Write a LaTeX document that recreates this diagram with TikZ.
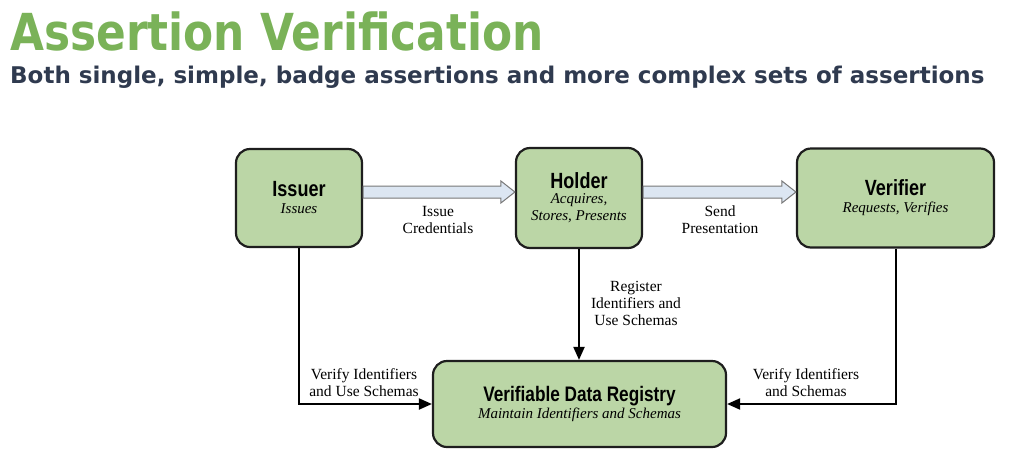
\documentclass[tikz,border=0pt]{standalone}
\usepackage{fontspec}
\setmainfont{Liberation Serif}
\newfontfamily\titlefont[FakeStretch=0.86]{DejaVu Sans}
\newfontfamily\subfont{DejaVu Sans}
\newfontfamily\boxfont[FakeStretch=0.82]{Liberation Sans}
\usetikzlibrary{arrows.meta,calc}
\definecolor{boxgreen}{RGB}{187,214,166}
\definecolor{boxline}{RGB}{30,30,30}
\definecolor{titlegreen}{RGB}{122,178,88}
\definecolor{subnavy}{RGB}{47,58,79}
\definecolor{arrowblue}{RGB}{220,230,242}
\definecolor{arrowgray}{RGB}{120,120,120}
\tikzset{
  box/.style={draw=boxline,line width=2.2pt,fill=boxgreen,rounded corners=14pt,
    align=center,inner sep=0pt,font=\fontsize{15}{17}\selectfont\itshape},
  hollow/.style={draw=arrowgray,line width=1pt,fill=arrowblue,line join=miter},
  conn/.style={draw=black,line width=2pt,-{Triangle[length=13pt,width=11pt]}},
  lbl/.style={align=center,inner sep=0pt,font=\fontsize{15.5}{17}\selectfont},
}
\newcommand{\bt}[2][22]{{\boxfont\bfseries\upshape\fontsize{#1}{25}\selectfont #2}}
\begin{document}
\begin{tikzpicture}[x=1pt,y=-1pt]
\useasboundingbox (0,0) rectangle (1032,472);
\node[anchor=base west,inner sep=0pt,text=titlegreen] (title) at (10,50)
  {\titlefont\bfseries\fontsize{51}{60}\selectfont Assertion Verification};
\node[anchor=base west,inner sep=0pt,text=subnavy] (subtitle) at (10,83)
  {\subfont\bfseries\fontsize{23}{26}\selectfont Both single, simple, badge assertions and more complex sets of assertions};

\node[box,minimum width=126pt,minimum height=98pt] (issuer) at (299,198)
  {\bt{Issuer}\\Issues};
\node[box,minimum width=126pt,minimum height=100pt] (holder) at (579,198)
  {\bt{Holder}\\[-2pt]Acquires,\\Stores, Presents};
\node[box,minimum width=197pt,minimum height=99pt] (verifier) at (895.5,198)
  {\bt{Verifier}\\Requests, Verifies};
\node[box,minimum width=293pt,minimum height=86pt] (vdr) at (579.5,404)
  {\bt[21]{Verifiable Data Registry}\\Maintain Identifiers and Schemas};

\draw[hollow] ($(issuer.east)+(0,-12)$) -- ($(holder.west)+(-14,-12)$)
  -- ($(holder.west)+(-14,-17)$) -- ($(holder.west)+(0,-6)$)
  -- ($(holder.west)+(-14,5)$) -- ($(holder.west)+(-14,0)$)
  -- ($(issuer.east)+(0,0)$) -- cycle;
\draw[hollow] ($(holder.east)+(0,-12)$) -- ($(verifier.west)+(-14,-12)$)
  -- ($(verifier.west)+(-14,-17)$) -- ($(verifier.west)+(0,-6)$)
  -- ($(verifier.west)+(-14,5)$) -- ($(verifier.west)+(-14,0)$)
  -- ($(holder.east)+(0,0)$) -- cycle;

\node[lbl] (l1) at (438,220) {Issue\\Credentials};
\node[lbl] (l2) at (720,220) {Send\\Presentation};
\node[lbl] (l3) at (636,303) {Register\\Identifiers and\\Use Schemas};
\node[lbl] (l4) at (364,383) {Verify Identifiers\\and Use Schemas};
\node[lbl] (l5) at (806,383) {Verify Identifiers\\and Schemas};

\draw[conn] (issuer.south) |- (vdr.west);
\draw[conn] (holder.south) -- (holder.south |- vdr.north);
\draw[conn] (verifier.south) |- (vdr.east);
\end{tikzpicture}
\end{document}
